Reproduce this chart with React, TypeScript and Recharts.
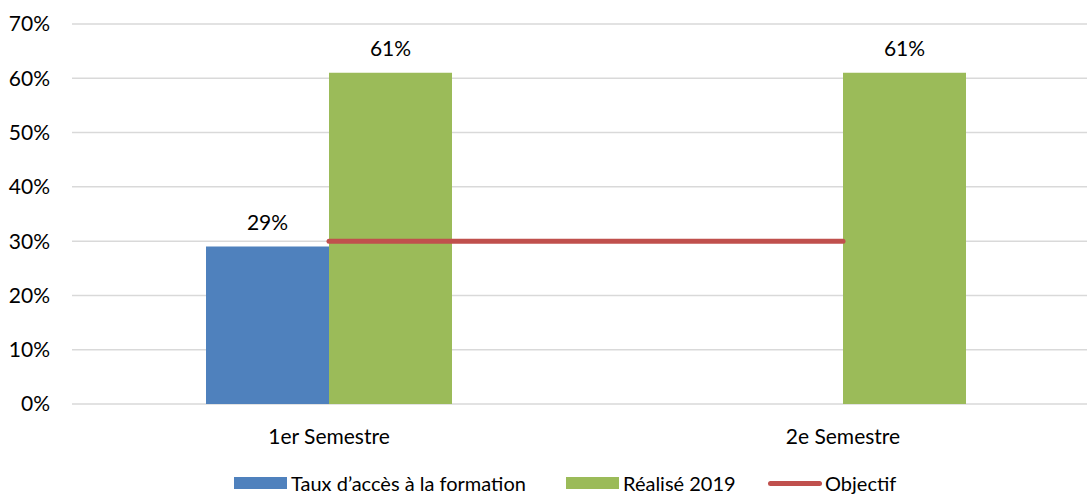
import { Bar, CartesianGrid, ComposedChart, LabelList, Legend, Line, XAxis, YAxis } from "recharts";

const categories = ["1er Semestre", "2e Semestre"];
const tauxAcces: Array<number | null> = [29, null];
const realise2019 = [61, 61];
const objectif = [30, 30];
const yTicks = [0, 10, 20, 30, 40, 50, 60, 70];

const data = categories.map((c, i) => ({
  name: c,
  taux: tauxAcces[i],
  realise: realise2019[i],
  objectif: objectif[i],
}));

const FONT = "Lato, 'Noto Sans', sans-serif";

function renderLegend() {
  const item = { position: "absolute" as const, top: 2, height: 24, display: "flex", alignItems: "center" };
  const label = { fontSize: 20, color: "#000", lineHeight: "24px", marginLeft: 4, whiteSpace: "nowrap" as const };
  return (
    <div style={{ position: "relative", width: 1087, height: 26, fontFamily: FONT }}>
      <div style={{ ...item, left: 234 }}>
        <span style={{ width: 53, height: 12, background: "#4F81BD", display: "inline-block" }} />
        <span style={label}>Taux d’accès à la formation</span>
      </div>
      <div style={{ ...item, left: 566 }}>
        <span style={{ width: 53, height: 12, background: "#9BBB59", display: "inline-block" }} />
        <span style={label}>Réalisé 2019</span>
      </div>
      <div style={{ ...item, left: 768 }}>
        <span style={{ width: 54, height: 5, borderRadius: 3, background: "#C0504D", display: "inline-block" }} />
        <span style={{ ...label, marginLeft: 3 }}>Objectif</span>
      </div>
    </div>
  );
}

export default function App() {
  return (
    <div style={{ position: "absolute", left: 0, top: 0, width: 1087, height: 495, overflow: "hidden", background: "#fff", fontFamily: FONT }}>
      <ComposedChart width={1100} height={495} data={data} margin={{ top: 24, right: 0, bottom: 0, left: 0 }} barGap={0}>
        <CartesianGrid vertical={false} stroke="#D9D9D9" strokeWidth={1.5} />
        <XAxis
          dataKey="name"
          axisLine={false}
          tickLine={false}
          height={65}
          tickMargin={19}
          tick={{ fontSize: 21, fill: "#000", fontFamily: FONT }}
        />
        <YAxis
          domain={[0, 70]}
          ticks={yTicks}
          width={72}
          axisLine={false}
          tickLine={false}
          tickSize={0}
          tickMargin={22}
          tickFormatter={(v) => `${v}%`}
          tick={{ fontSize: 21, fill: "#000", fontFamily: FONT }}
        />
        <Legend verticalAlign="bottom" height={26} content={renderLegend} wrapperStyle={{ left: 0, width: 1087, height: 26 }} />
        <Bar dataKey="taux" name="Taux d’accès à la formation" fill="#4F81BD" barSize={123} isAnimationActive={false}>
          <LabelList dataKey="taux" position="top" offset={17} formatter={(v: any) => (v == null ? "" : `${v}%`)} style={{ fontSize: 21, fill: "#000", fontFamily: FONT }} />
        </Bar>
        <Bar dataKey="realise" name="Réalisé 2019" fill="#9BBB59" barSize={123} isAnimationActive={false}>
          <LabelList dataKey="realise" position="top" offset={17} formatter={(v: any) => `${v}%`} style={{ fontSize: 21, fill: "#000", fontFamily: FONT }} />
        </Bar>
        <Line
          dataKey="objectif"
          name="Objectif"
          stroke="#C0504D"
          strokeWidth={5}
          strokeLinecap="round"
          dot={false}
          activeDot={false}
          isAnimationActive={false}
        />
      </ComposedChart>
    </div>
  );
}
